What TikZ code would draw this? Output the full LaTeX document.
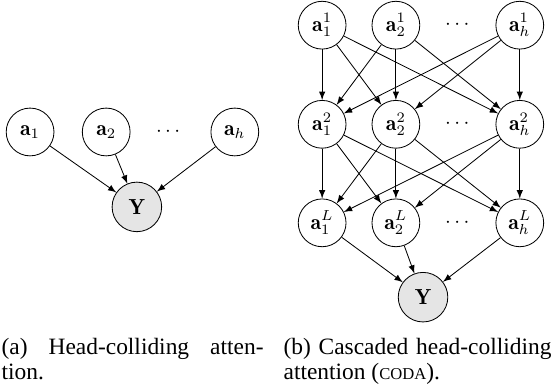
\documentclass[tikz,border=0pt]{standalone}
\usepackage{fontspec}
\newfontfamily\capfont{Liberation Serif}

\begin{document}
\begin{tikzpicture}
\tikzset{noeud/.style={draw, circle, inner sep=0pt, minimum size=0.81cm, font=\fontsize{10.5}{12}\selectfont},
  noeudobs/.style={noeud, fill=gray!20, minimum size=0.84cm},
  legende/.style={inner sep=0pt, anchor=north west, align=justify, font=\capfont\fontsize{11.3}{12}\selectfont},
  >=latex}
\useasboundingbox (0, 0) rectangle (9.373, 6.627);
% (a) head-colliding
\node[noeud] (A1) at (0.51, 4.39) {$\mathbf{a}_1$};
\node[noeud] (A2) at (1.80, 4.39) {$\mathbf{a}_2$};
\node (D1) at (2.85, 4.39) {$\cdots$};
\node[noeud] (Ah) at (3.98, 4.39) {$\mathbf{a}_h$};
\node[noeudobs] (Y) at (2.32, 3.12) {$\mathbf{Y}$};
\draw[->] (A1) -- (Y);
\draw[->] (A2) -- (Y);
\draw[->] (Ah) -- (Y);
% (b) cascaded
\node[noeud] (B11) at (5.46, 6.20) {$\mathbf{a}_1^1$};
\node[noeud] (B12) at (6.71, 6.20) {$\mathbf{a}_2^1$};
\node (E1) at (7.75, 6.20) {$\cdots$};
\node[noeud] (B1h) at (8.81, 6.20) {$\mathbf{a}_h^1$};
\node[noeud] (B21) at (5.46, 4.52) {$\mathbf{a}_1^2$};
\node[noeud] (B22) at (6.71, 4.52) {$\mathbf{a}_2^2$};
\node (E2) at (7.75, 4.52) {$\cdots$};
\node[noeud] (B2h) at (8.81, 4.52) {$\mathbf{a}_h^2$};
\node[noeud] (BL1) at (5.46, 2.85) {$\mathbf{a}_1^L$};
\node[noeud] (BL2) at (6.71, 2.85) {$\mathbf{a}_2^L$};
\node (EL) at (7.75, 2.85) {$\cdots$};
\node[noeud] (BLh) at (8.81, 2.85) {$\mathbf{a}_h^L$};
\node[noeudobs] (Z) at (7.17, 1.59) {$\mathbf{Y}$};
\draw[->] (B11) -- (B21);
\draw[->] (B11) -- (B22);
\draw[->] (B11) -- (B2h);
\draw[->] (B12) -- (B21);
\draw[->] (B12) -- (B22);
\draw[->] (B12) -- (B2h);
\draw[->] (B1h) -- (B21);
\draw[->] (B1h) -- (B22);
\draw[->] (B1h) -- (B2h);
\draw[->] (B21) -- (BL1);
\draw[->] (B21) -- (BL2);
\draw[->] (B21) -- (BLh);
\draw[->] (B22) -- (BL1);
\draw[->] (B22) -- (BL2);
\draw[->] (B22) -- (BLh);
\draw[->] (B2h) -- (BL1);
\draw[->] (B2h) -- (BL2);
\draw[->] (B2h) -- (BLh);
\draw[->] (BL1) -- (Z);
\draw[->] (BL2) -- (Z);
\draw[->] (BLh) -- (Z);
% captions
\node[legende, text width=4.44cm] (CapA) at (0.02, 0.90) {(a) Head-colliding atten-\linebreak tion.};
\node[legende, text width=4.54cm] (CapB) at (4.80, 0.90) {(b) Cascaded head-colliding\linebreak attention ({\fontsize{8}{9}\selectfont CODA}).};
\end{tikzpicture}
\end{document}
